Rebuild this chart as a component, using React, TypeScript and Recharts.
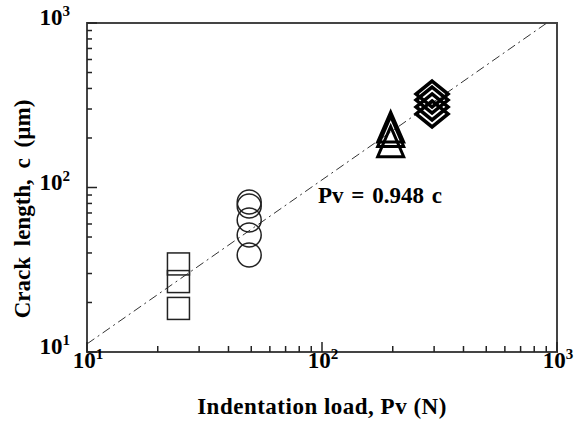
import { ScatterChart, Scatter, XAxis, YAxis, ReferenceLine, ReferenceArea, Label } from 'recharts';

// indentation load Pv (N) vs crack length c (um)
const squareLoads = [24.5, 24.5, 24.5];
const squareCracks = [34.3, 26.8, 18.4];
const circleLoads = [49, 49, 49, 49, 49];
const circleCracks = [81.6, 77.2, 63.5, 51.4, 38.9];
const triangleLoads = [196, 196, 196];
const triangleCracks = [233, 219, 190];
const diamondLoads = [294, 294, 294, 294];
const diamondCracks = [370, 340, 309, 280];

const fitLoads = [10, 905];
const fitCracks = [11.2, 1000];

const majorTicks = [10, 100, 1000];
const majorExps = ['1', '2', '3'];
const allTicks = [10, 20, 30, 40, 50, 60, 70, 80, 90, 100, 200, 300, 400, 500, 600, 700, 800, 900, 1000];

const zip = (xs: number[], ys: number[]) => xs.map((pv, i) => ({ pv, c: ys[i] }));

const FONT = '"Liberation Serif", "Times New Roman", serif';
const INK = '#222';

const XTick = (props: any) => {
  const { x, y, payload } = props;
  const i = majorTicks.indexOf(payload.value);
  const major = i >= 0;
  return (
    <g>
      <line x1={x} x2={x} y1={y} y2={y - (major ? 10 : 6)} stroke={INK} strokeWidth={1.5} />
      {major && (
        <text x={x + 1} y={y + 16} textAnchor="middle" fontFamily={FONT} fontWeight="bold" fontSize={23} fill="#000">
          10<tspan dy={-9} fontSize={15}>{majorExps[i]}</tspan>
        </text>
      )}
    </g>
  );
};

const YTick = (props: any) => {
  const { x, y, payload } = props;
  const i = majorTicks.indexOf(payload.value);
  const major = i >= 0;
  return (
    <g>
      <line x1={x} x2={x + (major ? 10 : 5)} y1={y} y2={y} stroke={INK} strokeWidth={1.5} />
      {major && (
        <text x={x - 17} y={y + 2} textAnchor="end" fontFamily={FONT} fontWeight="bold" fontSize={23} fill="#000">
          10<tspan dy={-9} fontSize={15}>{majorExps[i]}</tspan>
        </text>
      )}
    </g>
  );
};

const Square = ({ cx, cy }: any) => (
  <rect x={cx - 11} y={cy - 11} width={22} height={22} fill="none" stroke={INK} strokeWidth={1.5} />
);
const Circle = ({ cx, cy }: any) => (
  <circle cx={cx} cy={cy} r={12} fill="none" stroke={INK} strokeWidth={1.5} />
);
const Tri = ({ cx, cy }: any) => (
  <path d={`M${cx},${cy - 15}L${cx + 13},${cy + 15}L${cx - 13},${cy + 15}Z`} fill="none" stroke="#000" strokeWidth={3} />
);
const Diamond = ({ cx, cy }: any) => (
  <path d={`M${cx},${cy - 13}L${cx + 16},${cy}L${cx},${cy + 13}L${cx - 16},${cy}Z`} fill="none" stroke="#000" strokeWidth={3.5} />
);

export default function App() {
  return (
    <div style={{ position: 'absolute', left: 0, top: 0, width: 574, height: 432, background: '#fff' }}>
      <ScatterChart width={574} height={432} margin={{ top: 23, right: 17, bottom: 0, left: 0 }}>
        <XAxis
          type="number" dataKey="pv" scale="log" domain={[10, 1000]} allowDataOverflow
          ticks={allTicks} interval={0} tick={<XTick />} tickSize={0} tickMargin={0}
          axisLine={false} tickLine={false} height={80}
        >
          <Label value="Indentation load, Pv (N)" position="insideBottom" offset={18}
            style={{ fontFamily: FONT, fontWeight: 'bold', fontSize: 23, fill: '#000', letterSpacing: 0.5 }} />
        </XAxis>
        <YAxis
          type="number" dataKey="c" scale="log" domain={[10, 1000]} allowDataOverflow
          ticks={allTicks} interval={0} tick={<YTick />} tickSize={0} tickMargin={0}
          axisLine={false} tickLine={false} width={87}
        />
        <text
          x={0} y={0} transform="translate(30,209) rotate(-90)" textAnchor="middle"
          fontFamily={FONT} fontWeight="bold" fontSize={23} fill="#000" style={{ wordSpacing: 5 }}
        >
          Crack length, c (µm)
        </text>
        <ReferenceArea x1={10} x2={1000} y1={10} y2={1000} fill="none" stroke="#444" strokeWidth={2} />
        <ReferenceLine
          segment={[{ x: fitLoads[0], y: fitCracks[0] }, { x: fitLoads[1], y: fitCracks[1] }]}
          stroke="#333" strokeWidth={1} strokeDasharray="9 4 2 4"
        />
        <Scatter data={zip(squareLoads, squareCracks)} shape={<Square />} isAnimationActive={false} />
        <Scatter data={zip(circleLoads, circleCracks)} shape={<Circle />} isAnimationActive={false} />
        <Scatter data={zip(triangleLoads, triangleCracks)} shape={<Tri />} isAnimationActive={false} />
        <Scatter data={zip(diamondLoads, diamondCracks)} shape={<Diamond />} isAnimationActive={false} />
        <text x={318} y={203} fontFamily={FONT} fontWeight="bold" fontSize={23} fill="#000" style={{ wordSpacing: 2 }}>
          Pv = 0.948 c
        </text>
      </ScatterChart>
    </div>
  );
}
